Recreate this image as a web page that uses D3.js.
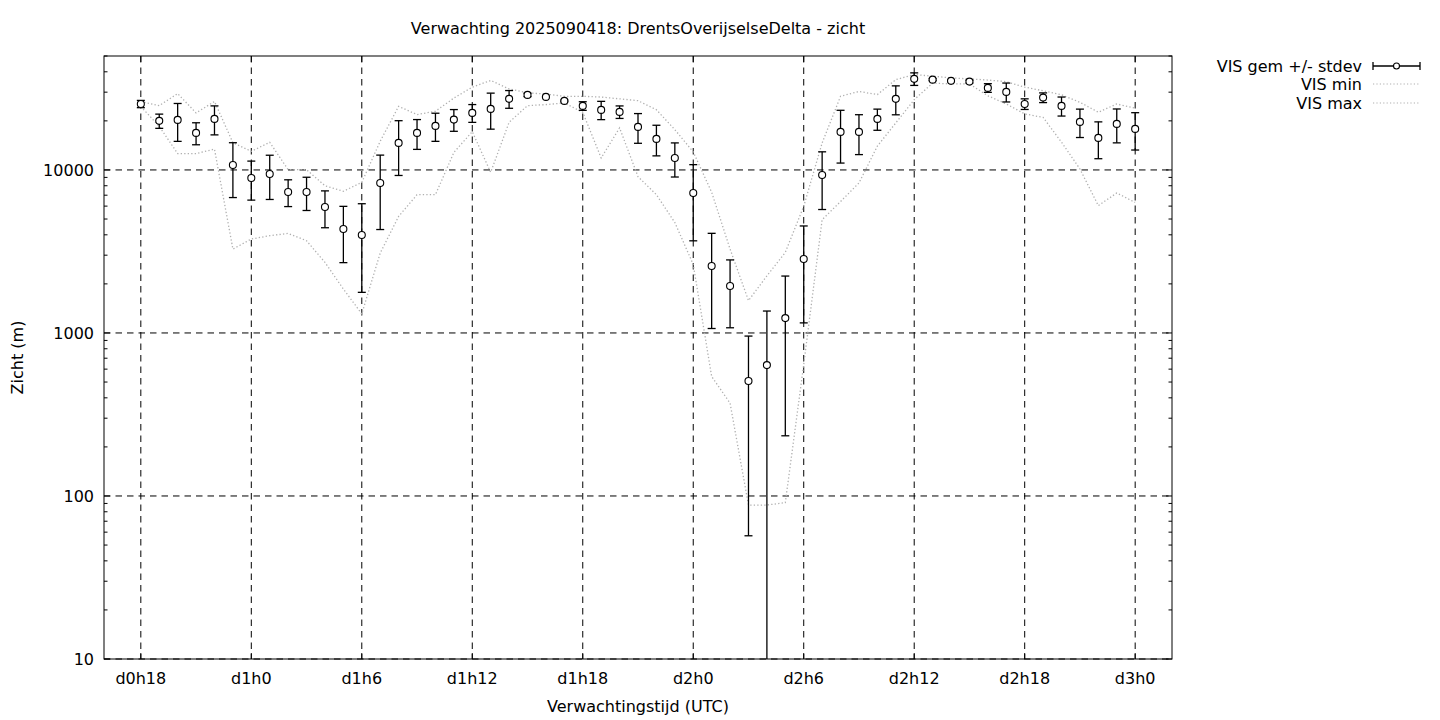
<!DOCTYPE html>
<html>
<head>
<meta charset="utf-8">
<script src="https://cdn.jsdelivr.net/npm/d3@7"></script>
<style>
  html, body { margin: 0; padding: 0; background: #fff; }
  svg { display: block; font-family: "DejaVu Sans", sans-serif; }
</style>
</head>
<body>
<svg id="chart" width="1440" height="720"></svg>
<script>
// ---- data (hours since d0h0) ----
const hours = [18,19,20,21,22,23,24,25,26,27,28,29,30,31,32,33,34,35,36,37,38,39,40,41,42,43,44,45,46,47,48,49,50,51,52,53,54,55,56,57,58,59,60,61,62,63,64,65,66,67,68,69,70,71,72];
const visMean = [25400,20000,20270,16870,20560,10730,8930,9450,7330,7330,5930,4340,3990,8320,14650,16870,18630,20360,22380,23690,27290,28870,28060,26520,24710,23350,22700,18370,15500,11850,7225,2575,1941,507,635,1234,2843,9318,17120,17120,20560,27290,36200,35800,35190,34830,31870,30120,25400,27790,24710,19710,15720,19160,17850];
const visStdev = [1300,2000,5300,2600,4150,3960,2400,2860,1370,1690,1510,1640,2215,4010,5400,3500,3650,3100,2800,5900,3400,700,250,300,1500,3000,2000,3800,3300,2800,3550,1510,865,450,728,1000,1690,3600,6100,4700,3050,5500,3200,500,400,700,1950,4000,1900,1900,3300,3900,4000,4500,4600];
const visMin = [24500,18520,12600,12600,13420,3270,3770,3950,4080,3680,2710,1860,1310,3090,5190,7050,7050,12800,17170,9670,19600,24800,25170,25770,22580,11850,18100,9100,7050,4760,2630,541,371,88,88,91,640,4950,6400,8320,14000,19430,27000,34100,33700,33700,28500,25400,22070,21000,14800,10140,6040,7220,6320];
const visMax = [26300,24800,29400,22380,26300,14700,13010,14770,10040,10040,8000,7400,8390,15000,24550,21860,22900,27600,32200,35400,31400,29700,29200,28300,28300,28000,27300,26600,23400,17670,12900,7300,3270,1580,2240,3120,5980,14650,28300,30300,29000,35800,38500,37600,36700,36200,35600,34800,32200,30600,28900,26000,22600,25400,23900];
const xTickHours = [18,24,30,36,42,48,54,60,66,72];
const xTickLabels = ["d0h18","d1h0","d1h6","d1h12","d1h18","d2h0","d2h6","d2h12","d2h18","d3h0"];
const yTickValues = [10,100,1000,10000];
const xDomain = [16,74];
const yDomain = [10,50000];
const titleText = "Verwachting 2025090418: DrentsOverijselseDelta - zicht";
const xTitle = "Verwachtingstijd (UTC)";
const yTitle = "Zicht (m)";
const legendLabels = ["VIS gem +/- stdev","VIS min","VIS max"];

// ---- layout ----
const L = 104, T = 56, R = 1172, B = 659;
const svg = d3.select("#chart");
const x = d3.scaleLinear().domain(xDomain).range([L, R]);
const y = d3.scaleLog().domain(yDomain).range([B, T]);
const FS = 16;
const dash = "6.5,5";
const dotCol = "#b0b0b0";

svg.append("defs").append("clipPath").attr("id","clip")
  .append("rect").attr("x",L).attr("y",T).attr("width",R-L).attr("height",B-T);

// grid
const grid = svg.append("g");
grid.selectAll("line.gx").data(xTickHours).enter().append("line")
  .attr("x1",d=>x(d)).attr("x2",d=>x(d)).attr("y1",T).attr("y2",B)
  .attr("stroke","#000").attr("stroke-width",1).attr("stroke-dasharray",dash);
grid.selectAll("line.gy").data(yTickValues).enter().append("line")
  .attr("x1",L).attr("x2",R).attr("y1",d=>y(d)).attr("y2",d=>y(d))
  .attr("stroke","#000").attr("stroke-width",1).attr("stroke-dasharray",dash);

const plot = svg.append("g").attr("clip-path","url(#clip)");

// min/max lines
const lineGen = arr => d3.line().x((d,i)=>x(hours[i])).y(d=>y(d))(arr);
plot.append("path").attr("d", lineGen(visMin)).attr("fill","none")
  .attr("stroke",dotCol).attr("stroke-width",1.3).attr("stroke-dasharray","1.3,2.2");
plot.append("path").attr("d", lineGen(visMax)).attr("fill","none")
  .attr("stroke",dotCol).attr("stroke-width",1.3).attr("stroke-dasharray","1.3,2.2");

// error bars
const capW = 4;
const eb = plot.append("g").attr("stroke","#000").attr("stroke-width",1.3);
hours.forEach((h,i)=>{
  const m = visMean[i], s = visStdev[i];
  const hi = m + s, lo = m - s;
  const xx = x(h);
  const yHi = y(hi);
  const yLo = lo > 0 ? y(lo) : B + 5;
  eb.append("line").attr("x1",xx).attr("x2",xx).attr("y1",yHi).attr("y2",yLo);
  eb.append("line").attr("x1",xx-capW).attr("x2",xx+capW).attr("y1",yHi).attr("y2",yHi);
  if (lo > 0) eb.append("line").attr("x1",xx-capW).attr("x2",xx+capW).attr("y1",yLo).attr("y2",yLo);
});
plot.append("g").selectAll("circle").data(visMean).enter().append("circle")
  .attr("cx",(d,i)=>x(hours[i])).attr("cy",d=>y(d)).attr("r",3.5)
  .attr("fill","#fff").attr("stroke","#000").attr("stroke-width",1.1);

// border
svg.append("rect").attr("x",L).attr("y",T).attr("width",R-L).attr("height",B-T)
  .attr("fill","none").attr("stroke","#000").attr("stroke-width",1);

// ticks
const tk = svg.append("g").attr("stroke","#000").attr("stroke-width",1);
xTickHours.forEach(h=>{
  tk.append("line").attr("x1",x(h)).attr("x2",x(h)).attr("y1",B).attr("y2",B-6);
  tk.append("line").attr("x1",x(h)).attr("x2",x(h)).attr("y1",T).attr("y2",T+6);
});
const minorVals = [];
[10,100,1000,10000].forEach(dec=>{ for (let k=2;k<=9;k++){ const v=dec*k; if (v<=yDomain[1]) minorVals.push(v);} });
yTickValues.forEach(v=>{
  tk.append("line").attr("x1",L).attr("x2",L+6).attr("y1",y(v)).attr("y2",y(v));
  tk.append("line").attr("x1",R).attr("x2",R-6).attr("y1",y(v)).attr("y2",y(v));
});
minorVals.forEach(v=>{
  tk.append("line").attr("x1",L).attr("x2",L+3.5).attr("y1",y(v)).attr("y2",y(v));
  tk.append("line").attr("x1",R).attr("x2",R-3.5).attr("y1",y(v)).attr("y2",y(v));
});

// tick labels
svg.append("g").selectAll("text").data(xTickHours).enter().append("text")
  .attr("x",d=>x(d)).attr("y",684).attr("text-anchor","middle")
  .attr("font-size",FS).attr("fill","#000").text((d,i)=>xTickLabels[i]);
svg.append("g").selectAll("text").data(yTickValues).enter().append("text")
  .attr("x",94).attr("y",d=>y(d)+6).attr("text-anchor","end")
  .attr("font-size",FS).attr("fill","#000").text(d=>String(d));

// titles
svg.append("text").attr("x",(L+R)/2).attr("y",34).attr("text-anchor","middle")
  .attr("font-size",FS).text(titleText);
svg.append("text").attr("x",(L+R)/2).attr("y",712).attr("text-anchor","middle")
  .attr("font-size",FS).text(xTitle);
svg.append("text").attr("transform",`translate(23,${(T+B)/2}) rotate(-90)`)
  .attr("text-anchor","middle").attr("font-size",FS).text(yTitle);

// legend
const legY = [66,84,103];
const lg = svg.append("g");
legendLabels.forEach((t,i)=>{
  lg.append("text").attr("x",1362).attr("y",legY[i]+6).attr("text-anchor","end")
    .attr("font-size",FS).text(t);
});
const lx1 = 1373, lx2 = 1420;
lg.append("line").attr("x1",lx1).attr("x2",lx2).attr("y1",legY[0]).attr("y2",legY[0]).attr("stroke","#000").attr("stroke-width",1.3);
lg.append("line").attr("x1",lx1).attr("x2",lx1).attr("y1",legY[0]-4).attr("y2",legY[0]+4).attr("stroke","#000").attr("stroke-width",1.3);
lg.append("line").attr("x1",lx2).attr("x2",lx2).attr("y1",legY[0]-4).attr("y2",legY[0]+4).attr("stroke","#000").attr("stroke-width",1.3);
lg.append("circle").attr("cx",(lx1+lx2)/2).attr("cy",legY[0]).attr("r",3).attr("fill","#fff").attr("stroke","#000").attr("stroke-width",1.1);
[1,2].forEach(i=>{
  lg.append("line").attr("x1",lx1).attr("x2",lx2).attr("y1",legY[i]).attr("y2",legY[i])
    .attr("stroke",dotCol).attr("stroke-width",1.2).attr("stroke-dasharray","1.2,2.2");
});
</script>
</body>
</html>
